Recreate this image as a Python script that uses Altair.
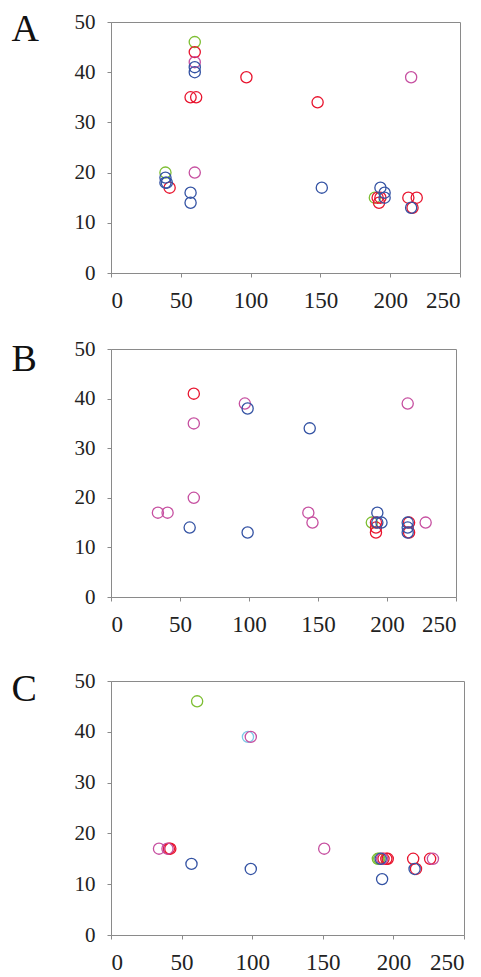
import altair as alt
import pandas as pd

# ---------------- Panel A ----------------
A_blue_x = [60, 60, 39, 40, 39, 57, 57, 151, 193, 196, 196, 215]
A_blue_y = [41, 40, 19, 18, 18, 16, 14, 17, 17, 16, 15, 13]
A_red_x = [60, 57, 61, 97, 148, 42, 191, 193, 192, 213, 219, 216]
A_red_y = [44, 35, 35, 39, 34, 17, 15, 15, 14, 15, 15, 13]
A_pink_x = [60, 215, 60]
A_pink_y = [42, 39, 20]
A_green_x = [60, 39, 189]
A_green_y = [46, 20, 15]

# ---------------- Panel B ----------------
B_blue_x = [99, 144, 57, 99, 193, 193, 196, 215, 215, 215]
B_blue_y = [38, 34, 14, 13, 17, 15, 15, 15, 14, 13]
B_red_x = [60, 192, 192, 192, 216, 216]
B_red_y = [41, 15, 14, 13, 15, 13]
B_pink_x = [60, 97, 215, 34, 41, 60, 143, 146, 228]
B_pink_y = [35, 39, 39, 17, 17, 20, 17, 15, 15]
B_green_x = [189]
B_green_y = [15]

# ---------------- Panel C ----------------
C_blue_x = [57, 99, 191, 192, 215]
C_blue_y = [14, 13, 15, 11, 13]
C_red_x = [41, 42, 193, 195, 196, 214, 216, 226]
C_red_y = [17, 17, 15, 15, 15, 15, 13, 15]
C_pink_x = [34, 40, 99, 151, 192, 228]
C_pink_y = [17, 17, 39, 17, 15, 15]
C_green_x = [61, 189, 190]
C_green_y = [46, 15, 15]
C_cyan_x = [97]
C_cyan_y = [39]

series_names = ["cyan", "green", "red", "pink", "blue"]
series_colors = ["#7cc8e6", "#7dbe32", "#e8142e", "#c64fa0", "#3352a3"]

x_ticks = [0, 50, 100, 150, 200, 250]
y_ticks = [0, 10, 20, 30, 40, 50]

FONT = "Liberation Serif"


def build_df(series):
    rows = []
    k = 0
    for name in series_names:
        if name in series:
            xs, ys = series[name]
            for xv, yv in zip(xs, ys):
                rows.append({"x": xv, "y": yv, "series": name, "k": k})
                k += 1
    return pd.DataFrame(rows)


def panel(letter, series, w, h, tx, ty):
    df = build_df(series)
    return alt.Chart(df).mark_point(
        shape="circle", filled=False, size=125, strokeWidth=1.3, opacity=1
    ).encode(
        x=alt.X("x:Q", scale=alt.Scale(domain=[0, 250], nice=False),
                axis=alt.Axis(values=x_ticks, title=None, grid=False,
                              labelFont=FONT, labelFontSize=23, labelColor="#222",
                              labelPadding=12, tickSize=4, tickColor="#8a8a8a",
                              domainColor="#8a8a8a")),
        y=alt.Y("y:Q", scale=alt.Scale(domain=[0, 50], nice=False),
                axis=alt.Axis(values=y_ticks, title=letter, grid=False,
                              titleAngle=0, titleX=tx, titleY=ty, titleAlign="left",
                              titleBaseline="alphabetic", titleFontSize=38,
                              titleFont=FONT, titleFontWeight="normal",
                              titleColor="#111", labelFont=FONT, labelFontSize=21,
                              labelColor="#222", labelPadding=12, tickSize=4,
                              tickColor="#8a8a8a", domainColor="#8a8a8a")),
        color=alt.Color("series:N", scale=alt.Scale(domain=series_names, range=series_colors),
                        legend=None),
        order=alt.Order("k:Q"),
    ).properties(width=w, height=h)


pA = panel("A", {"blue": (A_blue_x, A_blue_y), "red": (A_red_x, A_red_y),
                 "pink": (A_pink_x, A_pink_y), "green": (A_green_x, A_green_y)},
           349, 251, -100, 18)
pB = panel("B", {"blue": (B_blue_x, B_blue_y), "red": (B_red_x, B_red_y),
                 "pink": (B_pink_x, B_pink_y), "green": (B_green_x, B_green_y)},
           345, 248, -100, 21)
pC = panel("C", {"blue": (C_blue_x, C_blue_y), "red": (C_red_x, C_red_y),
                 "pink": (C_pink_x, C_pink_y), "green": (C_green_x, C_green_y),
                 "cyan": (C_cyan_x, C_cyan_y)},
           353, 254, -100, 19)

inner = alt.vconcat(pB, pC, spacing=32)
chart = alt.vconcat(pA, inner, spacing=24).properties(
    padding={"left": 2, "top": 1, "right": 5, "bottom": 2},
    background="white"
).configure_view(
    stroke="#8a8a8a", strokeWidth=1
)

chart.save("out.html", embed_options={"renderer": "svg", "actions": False})
